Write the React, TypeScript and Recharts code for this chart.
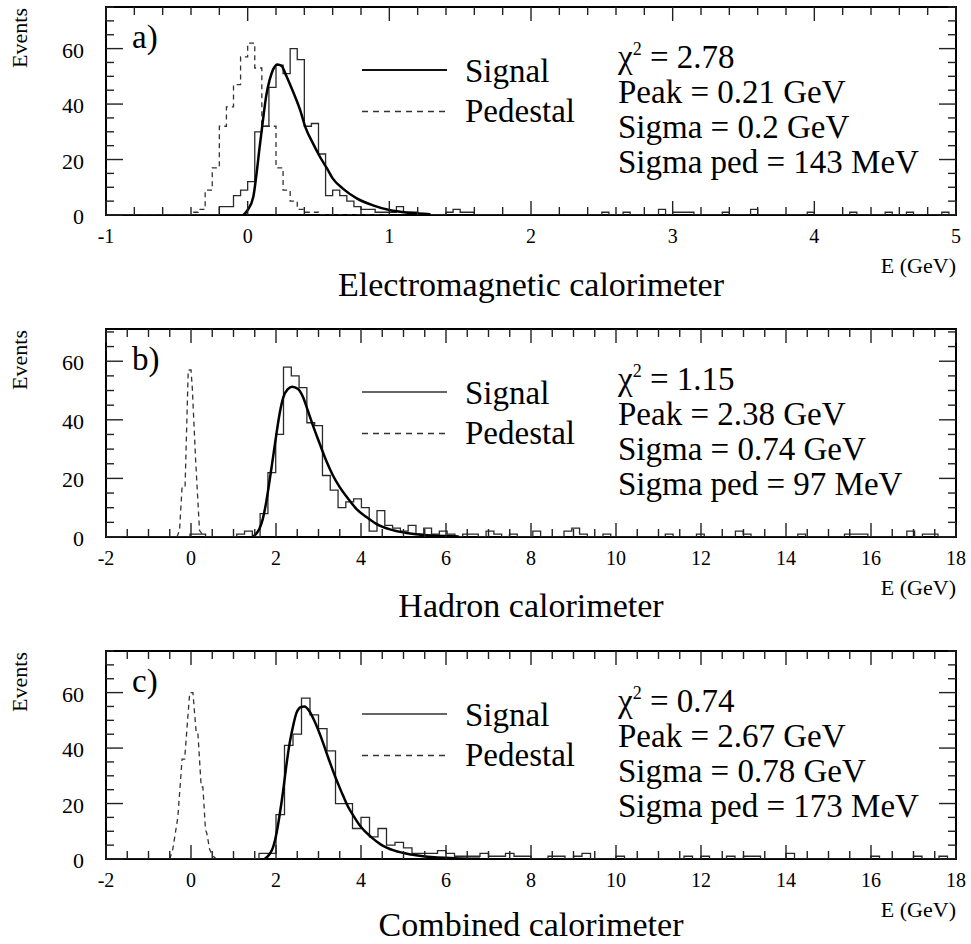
import React from 'react';
import { LineChart, Line, XAxis, YAxis, ReferenceArea } from 'recharts';

const FONT = "'Liberation Serif', 'Times New Roman', Times, serif";

// ---------------- data ----------------
// a) Electromagnetic calorimeter: 120 bins of 0.05 GeV starting at -1 GeV
const EM_BIN_START = -1;
const EM_BIN_WIDTH = 0.05;
const emSignal = [
  0, 0, 0, 0, 0, 0, 0, 0, 0, 0, 0, 0, 0, 0, 0, 0, 3, 3, 7, 9,
  12, 30, 32, 46, 54, 51, 60, 56, 32, 33, 22, 7, 9, 7, 5, 3, 2, 2, 1, 1,
  1, 3, 1, 1, 0, 0, 0, 0, 1, 2, 1, 1, 0, 0, 0, 0, 0, 0, 0, 0,
  0, 0, 0, 0, 0, 0, 0, 0, 0, 0, 1, 0, 0, 1, 0, 0, 0, 0, 2, 0,
  1, 1, 1, 0, 0, 0, 0, 1, 0, 0, 0, 2, 0, 0, 0, 0, 0, 0, 0, 1,
  0, 0, 0, 0, 0, 1, 0, 0, 0, 0, 1, 0, 0, 1, 0, 0, 0, 0, 1, 0,
];
const emPedestal = [
  0, 0, 0, 0, 0, 0, 0, 0, 0, 0, 0, 0, 1, 2, 9, 17, 32, 39, 47, 57,
  62, 53, 32, 32, 17, 9, 5, 2, 1, 1, 0, 0, 0, 0, 0, 0, 0, 0, 0, 0,
];
const emFitE = [-0.03, 0.0, 0.04, 0.06, 0.085, 0.11, 0.13, 0.155, 0.18, 0.21, 0.24, 0.27, 0.32, 0.37, 0.41, 0.46, 0.51, 0.56, 0.6, 0.67, 0.77, 0.89, 1.0, 1.14, 1.29];
const emFitN = [0, 1.8, 6.6, 13.8, 24.7, 35, 42.7, 48.7, 52.5, 54.3, 53.7, 50.5, 44.5, 37.9, 31.3, 25.9, 21, 16.8, 13.2, 9.6, 6, 3.4, 1.8, 0.8, 0.3];

// b) Hadron calorimeter
const HAD_BIN_START = -2.04;
const HAD_BIN_WIDTH = 0.18333;
const hadSignal = [
  0, 0, 0, 0, 0, 0, 0, 0, 0, 0,
  0, 1, 1, 0, 0, 0, 0, 1, 2, 0,
  8, 22, 35, 58, 55, 51, 39, 38, 21, 16,
  10, 12, 13, 10, 2, 9, 4, 3, 2, 4,
  1, 3, 1, 2, 1, 0, 1, 1, 0, 2,
  1, 0, 1, 0, 0, 2, 0, 0, 0, 2,
  3, 1, 0, 0, 1, 0, 0, 0, 0, 0,
  0, 0, 1, 0, 0, 0, 1, 0, 0, 0,
  0, 2, 1, 0, 0, 0, 0, 0, 0, 1,
  0, 0, 0, 0, 0, 1, 1, 1, 0, 0,
  0, 0, 0, 2, 0, 1, 1, 0, 0,
];
const hadPedE = [-0.33, -0.27, -0.21, -0.14, -0.065, 0.0, 0.03, 0.11, 0.2, 0.28, 0.36];
const hadPedN = [0, 2.3, 17, 17, 57, 57, 51, 26, 2.3, 0.6, 0];
const hadFitE = [1.45, 1.5, 1.61, 1.69, 1.77, 1.85, 1.93, 2.01, 2.09, 2.17, 2.28, 2.38, 2.52, 2.64, 2.75, 2.87, 3.03, 3.18, 3.34, 3.5, 3.7, 3.89, 4.13, 4.36, 4.68, 5.07, 5.46, 6.0, 6.3];
const hadFitN = [0, 0.6, 2.8, 6.2, 11.9, 19.3, 27.2, 35.2, 42.5, 47.6, 50.5, 51.3, 50.5, 47.6, 43.1, 38, 31.8, 26.1, 21, 17, 13, 9.6, 6.8, 4.5, 2.6, 1.4, 0.7, 0.3, 0.2];

// c) Combined calorimeter: 100 bins of 0.2 GeV starting at -2 GeV
const COMB_BIN_START = -2;
const COMB_BIN_WIDTH = 0.2;
const combSignal = [
  0, 0, 0, 0, 0, 0, 0, 0, 0, 0,
  0, 0, 0, 0, 0, 0, 0, 0, 2, 2,
  16, 41, 45, 58, 52, 47, 39, 20, 20, 11,
  15, 8, 11, 5, 6, 4, 2, 2, 2, 3,
  2, 1, 1, 1, 2, 1, 1, 2, 1, 1,
  0, 0, 1, 1, 0, 1, 2, 0, 0, 0,
  1, 0, 0, 0, 0, 0, 0, 0, 1, 0,
  1, 0, 0, 1, 0, 1, 1, 0, 0, 0,
  2, 0, 0, 0, 0, 0, 0, 0, 0, 0,
  1, 0, 0, 0, 0, 1, 0, 0, 1, 0,
];
const combPedE = [-0.5, -0.43, -0.31, -0.21, -0.15, -0.03, 0.045, 0.12, 0.16, 0.24, 0.28, 0.34, 0.37, 0.44, 0.52, 0.6];
const combPedN = [0, 3.4, 15, 36, 36, 60, 60, 46, 46, 26, 26, 10.6, 9.4, 3.4, 1, 0];
const combFitE = [1.73, 1.85, 1.93, 2.01, 2.09, 2.17, 2.24, 2.32, 2.4, 2.48, 2.59, 2.67, 2.79, 2.91, 3.07, 3.22, 3.38, 3.54, 3.69, 3.85, 4.0, 4.24, 4.47, 4.79, 5.18, 5.73, 6.2, 6.8];
const combFitN = [0, 1.8, 4.2, 9.1, 16.3, 24.8, 33.3, 41.7, 47.8, 52.6, 54.8, 55, 53.2, 49.6, 43.5, 36.9, 30.2, 24.2, 19, 14.9, 11.5, 7.9, 5.2, 3, 1.6, 0.6, 0.3, 0.1];

// axis labels
const emXTickLabels = [-1, 0, 1, 2, 3, 4, 5];
const hadXTickLabels = [-2, 0, 2, 4, 6, 8, 10, 12, 14, 16, 18];
const yTickLabels = [0, 20, 40, 60];

const emStats = ['2.78', 'Peak = 0.21 GeV', 'Sigma = 0.2 GeV', 'Sigma ped = 143 MeV'];
const hadStats = ['1.15', 'Peak = 2.38 GeV', 'Sigma = 0.74 GeV', 'Sigma ped = 97 MeV'];
const combStats = ['0.74', 'Peak = 2.67 GeV', 'Sigma = 0.78 GeV', 'Sigma ped = 173 MeV'];

// ---------------- layout ----------------
const W = 971;
const PANEL_H = 322;
const PLOT_TOP = 7;
const PLOT_LEFT = 106;
const PLOT_RIGHT = 956;
const PLOT_BOTTOM = 215;
const TXT = { fontFamily: FONT };

type Pt = { x: number; y: number };

function histPoints(start: number, width: number, counts: number[]): Pt[] {
  const pts = counts.map((c, i) => ({ x: start + i * width, y: c }));
  pts.push({ x: start + counts.length * width, y: counts[counts.length - 1] });
  return pts;
}
function curvePoints(xs: number[], ys: number[]): Pt[] {
  return xs.map((x, i) => ({ x, y: ys[i] }));
}
function stepTicks(min: number, max: number, step: number): number[] {
  const out: number[] = [];
  const n = Math.round((max - min) / step);
  for (let i = 0; i <= n; i++) out.push(+(min + i * step).toFixed(6));
  return out;
}

type PanelProps = {
  top: number;
  letter: string;
  title: string;
  titleOffset: number;
  xMin: number;
  xMax: number;
  xMinorStep: number;
  xLabels: number[];
  yMax: number;
  signal: Pt[];
  pedestal: Pt[];
  pedestalStep: boolean;
  fit: Pt[];
  stats: string[];
  legendColor: string;
};

function Panel(props: PanelProps) {
  const { top, letter, title, titleOffset, xMin, xMax, xMinorStep, xLabels, yMax, signal, pedestal, pedestalStep, fit, stats, legendColor } = props;
  const xTicks = stepTicks(xMin, xMax, xMinorStep);
  const yTicks = stepTicks(0, Math.floor(yMax / 5) * 5, 5);
  const isXMajor = (v: number) => xLabels.some((l) => Math.abs(l - v) < 1e-6);
  const isYMajor = (v: number) => yTickLabels.some((l) => Math.abs(l - v) < 1e-6);

  const XTick = (p: any) => {
    const v = p.payload.value;
    const x = p.x;
    const major = isXMajor(v);
    const len = major ? 14 : 8;
    return (
      <g>
        <line x1={x} x2={x} y1={PLOT_BOTTOM} y2={PLOT_BOTTOM - len} stroke="#222" strokeWidth={1.4} />
        <line x1={x} x2={x} y1={PLOT_TOP} y2={PLOT_TOP + len} stroke="#222" strokeWidth={1.4} />
        {major ? (
          <text x={x} y={PLOT_BOTTOM + 28} textAnchor="middle" fontSize={20} style={TXT} fill="#000">
            {String(v)}
          </text>
        ) : null}
      </g>
    );
  };
  const YTick = (p: any) => {
    const v = p.payload.value;
    const y = p.y;
    const major = isYMajor(v);
    const len = major ? 17 : 8;
    return (
      <g>
        <line x1={PLOT_LEFT} x2={PLOT_LEFT + len} y1={y} y2={y} stroke="#222" strokeWidth={1.4} />
        <line x1={PLOT_RIGHT} x2={PLOT_RIGHT - len} y1={y} y2={y} stroke="#222" strokeWidth={1.4} />
        {major ? (
          <text x={84} y={y + 9} textAnchor="end" fontSize={22} style={TXT} fill="#000">
            {String(v)}
          </text>
        ) : null}
      </g>
    );
  };

  return (
    <div style={{ position: 'absolute', left: 0, top, width: W, height: PANEL_H }}>
      <LineChart
        width={W}
        height={PANEL_H}
        margin={{ top: PLOT_TOP, right: W - PLOT_RIGHT, bottom: PANEL_H - PLOT_BOTTOM - 30, left: PLOT_LEFT - 60 }}
      >
        <XAxis
          type="number"
          dataKey="x"
          domain={[xMin, xMax]}
          allowDataOverflow
          ticks={xTicks}
          interval={0}
          height={30}
          tickLine={false}
          axisLine={false}
          tick={XTick}
        />
        <YAxis
          type="number"
          domain={[0, yMax]}
          allowDataOverflow
          ticks={yTicks}
          interval={0}
          width={60}
          tickLine={false}
          axisLine={false}
          tick={YTick}
        />
        <ReferenceArea x1={xMin} x2={xMax} y1={0} y2={yMax} fill="none" fillOpacity={0} stroke="#000" strokeWidth={2} />
        <Line
          data={pedestal}
          dataKey="y"
          type={pedestalStep ? 'stepAfter' : 'linear'}
          stroke="#333"
          strokeWidth={1.3}
          strokeDasharray="5 4"
          dot={false}
          activeDot={false}
          isAnimationActive={false}
        />
        <Line
          data={signal}
          dataKey="y"
          type="stepAfter"
          stroke="#2a2a2a"
          strokeWidth={1.3}
          dot={false}
          activeDot={false}
          isAnimationActive={false}
        />
        <Line
          data={fit}
          dataKey="y"
          type="monotone"
          stroke="#000"
          strokeWidth={2.5}
          dot={false}
          activeDot={false}
          isAnimationActive={false}
        />
      </LineChart>
      <svg width={W} height={PANEL_H} style={{ position: 'absolute', left: 0, top: 0, pointerEvents: 'none' }}>
        <text transform={`translate(27, ${PLOT_TOP + 1}) rotate(-90)`} textAnchor="end" fontSize={22} style={TXT} fill="#000">
          Events
        </text>
        <text x={132} y={PLOT_TOP + 41} fontSize={33} style={TXT} fill="#000">
          {letter}
        </text>
        <line x1={362} x2={447} y1={PLOT_TOP + 63} y2={PLOT_TOP + 63} stroke={legendColor} strokeWidth={2} />
        <line x1={362} x2={447} y1={PLOT_TOP + 104.5} y2={PLOT_TOP + 104.5} stroke="#333" strokeWidth={1.5} strokeDasharray="6 5" />
        <text x={465} y={PLOT_TOP + 75} fontSize={33} style={TXT} fill="#000">
          Signal
        </text>
        <text x={465} y={PLOT_TOP + 115} fontSize={33} style={TXT} fill="#000">
          Pedestal
        </text>
        <text x={618} y={PLOT_TOP + 61} fontSize={33} style={TXT} fill="#000">
          χ
          <tspan dy={-13} fontSize={18}>
            2
          </tspan>
          <tspan dy={13}>{' = ' + stats[0]}</tspan>
        </text>
        <text x={618} y={PLOT_TOP + 96} fontSize={33} style={TXT} fill="#000">
          {stats[1]}
        </text>
        <text x={618} y={PLOT_TOP + 131} fontSize={33} style={TXT} fill="#000">
          {stats[2]}
        </text>
        <text x={618} y={PLOT_TOP + 166} fontSize={33} style={TXT} fill="#000">
          {stats[3]}
        </text>
        <text x={PLOT_RIGHT} y={PLOT_BOTTOM + 58} textAnchor="end" fontSize={22} style={TXT} fill="#000">
          E (GeV)
        </text>
        <text x={(PLOT_LEFT + PLOT_RIGHT) / 2} y={PLOT_BOTTOM + titleOffset} textAnchor="middle" fontSize={34} style={TXT} fill="#000">
          {title}
        </text>
      </svg>
    </div>
  );
}

export default function App() {
  return (
    <div style={{ position: 'absolute', left: 0, top: 0, width: W, height: 944, background: '#fff', overflow: 'hidden' }}>
      <Panel
        top={0}
        letter="a)"
        title="Electromagnetic calorimeter"
        titleOffset={81}
        xMin={-1}
        xMax={5}
        xMinorStep={0.2}
        xLabels={emXTickLabels}
        yMax={75}
        signal={histPoints(EM_BIN_START, EM_BIN_WIDTH, emSignal)}
        pedestal={histPoints(EM_BIN_START, EM_BIN_WIDTH, emPedestal)}
        pedestalStep={true}
        fit={curvePoints(emFitE, emFitN)}
        stats={emStats}
        legendColor="#111"
      />
      <Panel
        top={322}
        letter="b)"
        title="Hadron calorimeter"
        titleOffset={80}
        xMin={-2}
        xMax={18}
        xMinorStep={0.5}
        xLabels={hadXTickLabels}
        yMax={71}
        signal={histPoints(HAD_BIN_START, HAD_BIN_WIDTH, hadSignal)}
        pedestal={curvePoints(hadPedE, hadPedN)}
        pedestalStep={false}
        fit={curvePoints(hadFitE, hadFitN)}
        stats={hadStats}
        legendColor="#666"
      />
      <Panel
        top={644}
        letter="c)"
        title="Combined calorimeter"
        titleOffset={77}
        xMin={-2}
        xMax={18}
        xMinorStep={0.5}
        xLabels={hadXTickLabels}
        yMax={75}
        signal={histPoints(COMB_BIN_START, COMB_BIN_WIDTH, combSignal)}
        pedestal={curvePoints(combPedE, combPedN)}
        pedestalStep={false}
        fit={curvePoints(combFitE, combFitN)}
        stats={combStats}
        legendColor="#666"
      />
    </div>
  );
}
